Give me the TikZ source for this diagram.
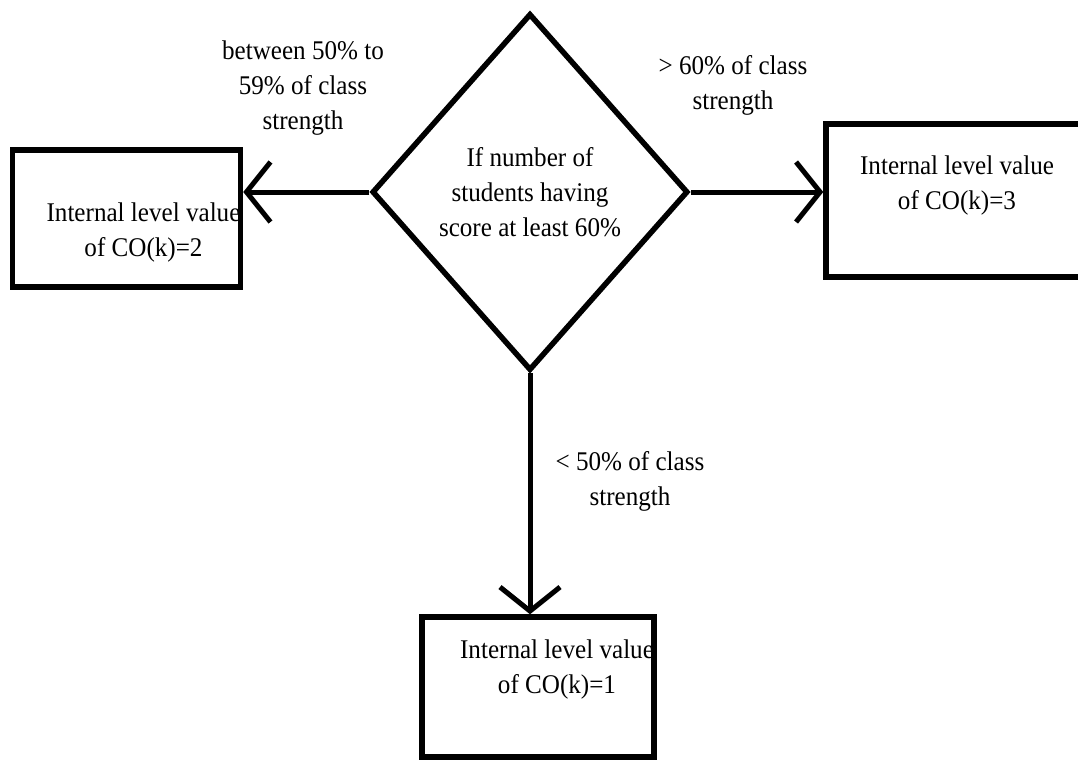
\documentclass[tikz,border=0pt]{standalone}
\usepackage{fontspec}
\setmainfont{Liberation Serif}[FakeStretch=0.93]
\usetikzlibrary{arrows.meta, shapes.geometric}

\begin{document}
\begin{tikzpicture}[
    x=1pt, y=1pt,
    font=\fontsize{27}{35}\selectfont,
    DN/.style = {diamond, draw, line width=5.5pt,
                    minimum width=316pt, minimum height=357pt,
                    inner sep=0pt, align=center},
    BN/.style args = {#1/#2}{
                    draw, line width=5.5pt,% box line
                    minimum width=#1, minimum height=#2, inner sep=0pt},
    TN/.style = {align=center, inner sep=0pt},
    line/.style = {line width=5pt,
                    -{Straight Barb[length=24pt,width=60pt,line width=5pt]}}]
%---
\path[use as bounding box, clip] (0,0) rectangle (1078,-760);
% middle
\node (d) [DN] at (530,-192)        {If number of\\students having\\score at least 60\%};
% left
\node (co2) [BN=228pt/137pt] at (126.5,-218.5) {};
\node (co2t) [TN] at ([shift={(17,-14)}]co2.center) {Internal level value\\of CO(k)=2};
% right
\node (co3) [BN=274pt/153pt] at (963,-200.5) {};
\node (co3t) [TN] at ([shift={(-6,15)}]co3.center) {Internal level value\\of CO(k)=3};
% bottom
\node (co1) [BN=232pt/140pt] at (538,-687) {};
\node (co1t) [TN] at ([shift={(19,18)}]co1.center) {Internal level value\\of CO(k)=1};
% labels
\node (l2) [TN] at (303,-88)        {between 50\% to\\59\% of class\\strength};
\node (l3) [TN] at (733,-85)        {> 60\% of class\\strength};
\node (l1) [TN] at (630,-481)       {< 50\% of class\\strength};
% lines
\draw[line] (d.west)  -- (d.west -| co2.east);
\draw[line] (d.east)  -- (d.east -| co3.west);
\draw[line] (d.south) -- (d.south |- co1.north);
\end{tikzpicture}
\end{document}
